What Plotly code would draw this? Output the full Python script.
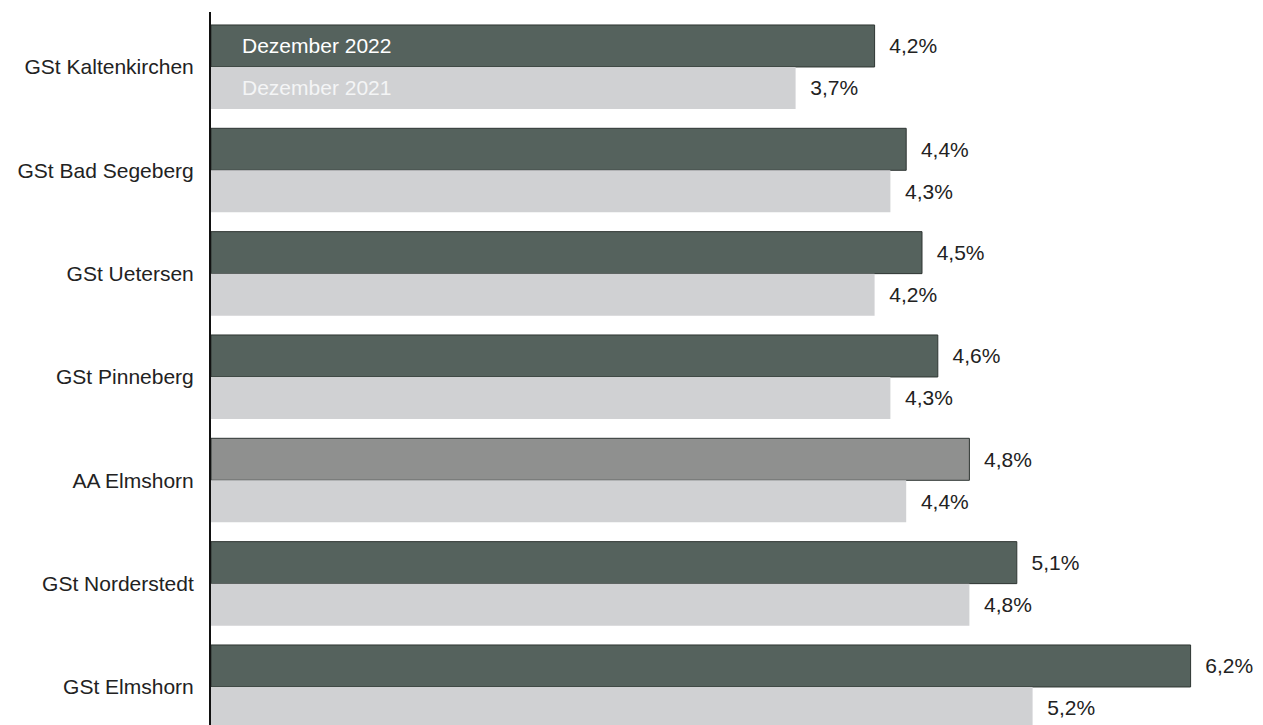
import plotly.graph_objects as go

categories = ["GSt Kaltenkirchen", "GSt Bad Segeberg", "GSt Uetersen", "GSt Pinneberg",
              "AA Elmshorn", "GSt Norderstedt", "GSt Elmshorn"]
values_2022 = [4.2, 4.4, 4.5, 4.6, 4.8, 5.1, 6.2]
values_2021 = [3.7, 4.3, 4.2, 4.3, 4.4, 4.8, 5.2]
series_names = ["Dezember 2022", "Dezember 2021"]

dark = "#55625d"
highlight = "#8f908f"
light = "#d0d1d3"
colors_2022 = [highlight if c == "AA Elmshorn" else dark for c in categories]

font_family = "Arial"
fs = 21
txt = "\u00a0\u00a0%{x:.1f}%"

fig = go.Figure()
fig.add_trace(go.Bar(
    name=series_names[0], y=categories, x=values_2022, orientation="h",
    marker=dict(color=colors_2022, line=dict(color="#2e3532", width=1)),
    texttemplate=txt, textposition="outside", cliponaxis=False, constraintext="none",
    textfont=dict(size=fs, color="#222222", family=font_family),
))
fig.add_trace(go.Bar(
    name=series_names[1], y=categories, x=values_2021, orientation="h",
    marker=dict(color=light, line=dict(width=0)),
    texttemplate=txt, textposition="outside", cliponaxis=False, constraintext="none",
    textfont=dict(size=fs, color="#222222", family=font_family),
))

fig.add_annotation(x=0, y=categories[0], text=series_names[0], showarrow=False,
                   xanchor="left", yanchor="middle", xshift=29, yshift=21,
                   font=dict(size=fs, color="#ffffff", family=font_family))
fig.add_annotation(x=0, y=categories[0], text=series_names[1], showarrow=False,
                   xanchor="left", yanchor="middle", xshift=29, yshift=-21,
                   font=dict(size=fs, color="#f4f5f6", family=font_family))

# page body has an 8px default margin, so the figure is sized to fit the window
fig.update_layout(
    width=1255, height=717,
    margin=dict(l=203, r=0, t=4, b=0),
    paper_bgcolor="white", plot_bgcolor="white",
    barmode="group", bargap=0.187, bargroupgap=0,
    showlegend=False,
    separators=",.",
    font=dict(family=font_family, size=fs, color="#222222"),
)
fig.update_xaxes(range=[0, 1052 / 158], visible=False, showgrid=False, zeroline=False)
fig.update_yaxes(
    type="category", categoryorder="array", categoryarray=categories,
    range=[6.368, -0.532], showline=True, linecolor="#111111", linewidth=2,
    ticks="", showgrid=False, zeroline=False, ticklabelstandoff=11,
    tickfont=dict(size=fs, color="#222222", family=font_family),
)

fig.write_html("out.html")
